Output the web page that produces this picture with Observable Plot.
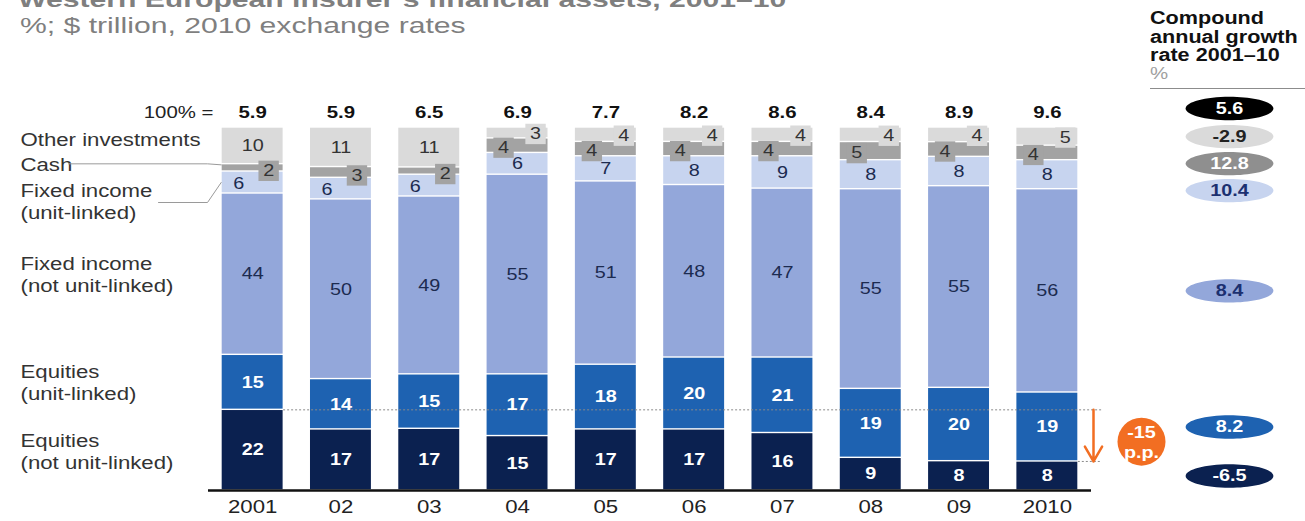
<!DOCTYPE html>
<html>
<head>
<meta charset="utf-8">
<script src="https://cdn.jsdelivr.net/npm/d3@7"></script>
<script src="https://cdn.jsdelivr.net/npm/@observablehq/plot@0.6"></script>
<style>
  html, body { margin: 0; padding: 0; background: #fff; }
  #wrap { position: relative; width: 1305px; height: 521px; overflow: hidden;
          font-family: "Liberation Sans", Arial, Helvetica, sans-serif; }
  #chart { position: absolute; left: 0; top: 0; }
  .hd { position: absolute; white-space: nowrap; transform-origin: 0 0; color: #7f7f7f; }
  #title { left: 18px; top: -11px; font-size: 22px; line-height: 22px; font-weight: bold; transform: scaleX(1.37); }
  #subtitle { left: 20px; top: 15px; font-size: 22px; line-height: 22px; transform: scaleX(1.37); }
  #cagr { position: absolute; left: 1150px; top: 9px; width: 155px; border-bottom: 1.5px solid #8c8c8c; padding-bottom: 5px; }
  #cagr div { white-space: nowrap; transform: scaleX(1.2); transform-origin: 0 0; }
  #cagr .h { font-size: 18px; line-height: 18.5px; font-weight: bold; color: #111; }
  #cagr .u { font-size: 17px; line-height: 18px; color: #a0a0a0; }
</style>
</head>
<body>
<div id="wrap">
  <div id="chart"></div>
  <div id="title" class="hd">Western European insurer’s financial assets, 2001–10</div>
  <div id="subtitle" class="hd">%; $ trillion, 2010 exchange rates</div>
  <div id="cagr">
    <div class="h">Compound</div>
    <div class="h">annual growth</div>
    <div class="h">rate 2001–10</div>
    <div class="u">%</div>
  </div>
</div>
<script>
// ---------------- data ----------------
const years = ["2001", "02", "03", "04", "05", "06", "07", "08", "09", "2010"];
const totals = [5.9, 5.9, 6.5, 6.9, 7.7, 8.2, 8.6, 8.4, 8.9, 9.6];
const categories = [
  "Equities (not unit-linked)",
  "Equities (unit-linked)",
  "Fixed income (not unit-linked)",
  "Fixed income (unit-linked)",
  "Cash",
  "Other investments"
];
const equitiesNotUnitLinked = [22, 17, 17, 15, 17, 17, 16, 9, 8, 8];
const equitiesUnitLinked    = [15, 14, 15, 17, 18, 20, 21, 19, 20, 19];
const fixedIncomeNotUnitLinked = [44, 50, 49, 55, 51, 48, 47, 55, 55, 56];
const fixedIncomeUnitLinked = [6, 6, 6, 6, 7, 8, 9, 8, 8, 8];
const cash  = [2, 3, 2, 4, 4, 4, 4, 5, 4, 4];
const other = [10, 11, 11, 3, 4, 4, 4, 4, 4, 5];
// compound annual growth 2001–10: total, other, cash, FI UL, FI not UL, Eq UL, Eq not UL
const cagrNames = ["Total", "Other investments", "Cash", "Fixed income (unit-linked)",
  "Fixed income (not unit-linked)", "Equities (unit-linked)", "Equities (not unit-linked)"];
const cagrValues = [5.6, -2.9, 12.8, 10.4, 8.4, 8.2, -6.5];
const changeText = "-15\np.p.";

// ---------------- styles ----------------
const fills = ["#0b2150", "#1e62b1", "#93a7da", "#c7d4ef", "#a3a3a3", "#dadada"];
const labelFills = ["#ffffff", "#ffffff", "#1c2b50", "#1c2b50", "#333333", "#333333"];
const ellipseFills = ["#000000", "#dadada", "#8f8f8f", "#c7d4ef", "#93a7da", "#1e62b1", "#0b2150"];
const ellipseText = ["#ffffff", "#222222", "#ffffff", "#1c3070", "#1c3070", "#ffffff", "#ffffff"];
const orange = "#f26e22";
const font = "'Liberation Sans', Arial, Helvetica, sans-serif";

const W = 1305, H = 521, mTop = 127, mBottom = 31, mLeft = 208, mRight = 214;
const n = years.length;
const pxY = H - mTop - mBottom;              // pixels per y unit (y domain 0..1)
const pxX = (W - mLeft - mRight) / n;       // pixels per x unit
const dxu = px => px / pxX, dyu = px => -px / pxY;  // pixel offsets to data units
const half = 0.345;                          // half bar width in x units

// ---------------- stacking (normalized) ----------------
const series = [equitiesNotUnitLinked, equitiesUnitLinked, fixedIncomeNotUnitLinked,
                fixedIncomeUnitLinked, cash, other];
const segs = [];
years.forEach((yr, i) => {
  const tot = d3.sum(series, s => s[i]);
  let acc = 0;
  series.forEach((s, k) => {
    const v = s[i];
    const y1 = acc / tot, y2 = (acc + v) / tot;
    acc += v;
    segs.push({i, year: yr, k, cat: categories[k], value: v, y1, y2, mid: (y1 + y2) / 2});
  });
});
const seg = (i, k) => segs.find(s => s.i === i && s.k === k);
const smallTop = i => other[i] < 8;

// label placement for the thin top segments
function place(d) {
  if (d.k === 5 && smallTop(d.i)) return {dx: 18, dy: 1, box: true};
  if (d.k === 4) return smallTop(d.i) ? {dx: -14, dy: 2, box: true} : {dx: 16, dy: 3, box: true};
  if (d.k === 3 && !smallTop(d.i)) return {dx: -14, dy: 1, box: false};
  return {dx: 0, dy: 0, box: false};
}
const labels = segs.map(d => {
  const p = place(d);
  return {...d, lx: d.i + dxu(p.dx), ly: d.mid + dyu(p.dy), box: p.box};
});

// left category labels (aligned to 2001 bar)
const leftShift = [1, 0, 0, 18, -4, -7];
const leftRows = categories.map((c, k) => ({
  text: c.replace(" (", "\n("), k, y: seg(0, k).mid + dyu(leftShift[k])
}));
const cashLabelY = leftRows[4].y, fiulLabelY = seg(0, 3).mid + dyu(20);
const leaders = [
  [{x: -0.5 + dxu(-140), y: cashLabelY}, {x: -0.5 + dxu(-1), y: cashLabelY}, {x: -half - dxu(1), y: seg(0, 4).mid + dyu(-3)}],
  [{x: -0.5 + dxu(-50), y: fiulLabelY}, {x: -0.5 + dxu(-1), y: fiulLabelY}, {x: -half - dxu(1), y: seg(0, 3).mid}]
];

// CAGR ellipses: aligned with 2010 segments, pushed down to avoid overlap
const cagrKeys = [-1, 5, 4, 3, 2, 1, 0];
let prevY = Infinity;
const cagrRows = cagrValues.map((v, j) => {
  const k = cagrKeys[j];
  let y = k < 0 ? 1 + 19 / pxY : seg(n - 1, k).mid;
  y = Math.min(y, prevY - 27 / pxY);
  prevY = y;
  return {name: cagrNames[j], v, j, y};
});
const cagrX = n - 0.5 + dxu(138);

// change annotation (not unit-linked equities share, first vs last year)
const yStart = seg(0, 0).y2, yEnd = seg(n - 1, 0).y2;
const xAnn = n - 0.5 + dxu(2);

// ellipse symbol
const ellipse = {
  draw(context, size) {
    const r = Math.sqrt(size / Math.PI);
    const rx = r * 3.75, ry = r, c = 0.5523;
    context.moveTo(rx, 0);
    context.bezierCurveTo(rx, ry * c, rx * c, ry, 0, ry);
    context.bezierCurveTo(-rx * c, ry, -rx, ry * c, -rx, 0);
    context.bezierCurveTo(-rx, -ry * c, -rx * c, -ry, 0, -ry);
    context.bezierCurveTo(rx * c, -ry, rx, -ry * c, rx, 0);
    context.closePath();
  }
};

const chart = Plot.plot({
  width: W, height: H,
  marginTop: mTop, marginBottom: mBottom, marginLeft: mLeft, marginRight: mRight,
  x: {type: "linear", domain: [-0.5, n - 0.5], axis: null},
  y: {type: "linear", domain: [0, 1], axis: null},
  color: {type: "identity"},
  style: {fontFamily: font, background: "transparent", overflow: "visible"},
  marks: [
    // bars
    Plot.rect(segs, {x1: d => d.i - half, x2: d => d.i + half, y1: "y1", y2: "y2",
      fill: d => fills[d.k], insetTop: 0.7, insetBottom: 0.7}),
    // baseline
    Plot.ruleY([0], {stroke: "#111", strokeWidth: 2.5}),
    // dotted reference lines
    Plot.link([{x1: half, x2: n - 0.5 + dxu(10), y: yStart}, {x1: n - 1 + half, x2: n - 0.5 + dxu(10), y: yEnd}],
      {x1: "x1", x2: "x2", y1: "y", y2: "y", stroke: "#8a8a8a", strokeWidth: 1, strokeDasharray: "2,2"}),
    // boxes behind thin-segment labels
    Plot.dot(labels.filter(d => d.box), {x: "lx", y: "ly", symbol: "square", r: 11.5,
      fill: d => fills[d.k], stroke: "none"}),
    // segment labels
    Plot.text(labels.filter(d => d.k >= 2), {x: "lx", y: "ly", text: d => String(d.value),
      fill: d => labelFills[d.k], fontSize: 16.5}),
    Plot.text(labels.filter(d => d.k < 2), {x: "lx", y: "ly", text: d => String(d.value),
      fill: "#ffffff", fontSize: 16.5, fontWeight: "bold"}),
    // totals row
    Plot.text(["100% ="], {x: () => -0.5, y: () => 1, dx: 5, dy: -15, textAnchor: "end",
      fontSize: 17, fill: "#222"}),
    Plot.text(totals, {x: (d, i) => i, y: () => 1, dy: -15, text: d => d.toFixed(1),
      fontSize: 17, fontWeight: "bold", fill: "#111"}),
    // x tick labels
    Plot.text(years, {x: (d, i) => i, frameAnchor: "bottom", dy: 22, text: d => d,
      fontSize: 18.5, fill: "#222"}),
    // left category labels
    Plot.text(leftRows, {x: () => -0.5, y: "y", text: "text", dx: -188, textAnchor: "start",
      lineAnchor: "middle", lineHeight: 1.19, fontSize: 18.5, fill: "#333"}),
    // leader lines
    ...leaders.map(pts => Plot.line(pts, {x: "x", y: "y", stroke: "#9a9a9a", strokeWidth: 1})),
    // change arrow + badge
    Plot.arrow([{x: xAnn, y1: yStart, y2: yEnd}], {x1: "x", x2: "x", y1: "y1", y2: "y2",
      stroke: orange, strokeWidth: 2.5, headLength: 13, headAngle: 60}),
    Plot.dot([{x: n - 0.5 + dxu(50), y: (yStart + yEnd) / 2 + dyu(6)}], {x: "x", y: "y", r: 24,
      fill: orange, stroke: "none"}),
    Plot.text([changeText], {x: () => n - 0.5 + dxu(50), y: () => (yStart + yEnd) / 2 + dyu(6),
      text: d => d, fill: "#fff", fontWeight: "bold", fontSize: 16.5, lineHeight: 1.2}),
    // CAGR ellipses
    Plot.dot(cagrRows, {x: () => cagrX, y: "y", r: 11.7, symbol: ellipse,
      fill: d => ellipseFills[d.j], stroke: "none"}),
    Plot.text(cagrRows, {x: () => cagrX, y: "y", text: d => d.v.toFixed(1),
      fill: d => ellipseText[d.j], fontWeight: "bold", fontSize: 16.5})
  ]
});

// horizontally stretch text as in the reference
chart.querySelectorAll("text").forEach(t => {
  const tr = t.getAttribute("transform");
  if (tr) t.setAttribute("transform", tr + " scale(1.2,1)");
  else {
    const x = +t.getAttribute("x") || 0, y = +t.getAttribute("y") || 0;
    t.setAttribute("transform", `translate(${x},${y}) scale(1.2,1) translate(${-x},${-y})`);
  }
});
document.getElementById("chart").appendChild(chart);
</script>
</body>
</html>
